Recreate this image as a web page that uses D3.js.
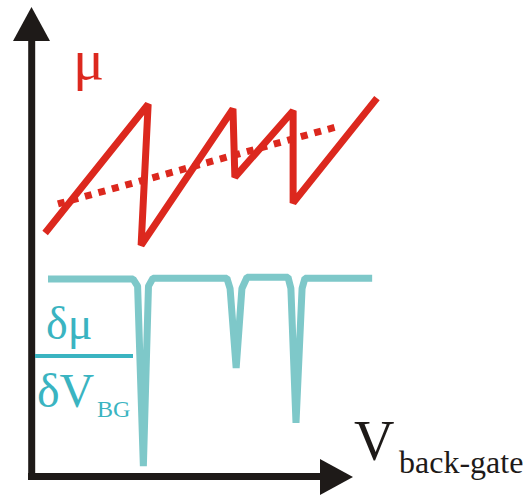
<!DOCTYPE html>
<html>
<head>
<meta charset="utf-8">
<script src="https://cdn.jsdelivr.net/npm/d3@7"></script>
<style>
  html, body { margin: 0; padding: 0; background: #fff; }
  svg { display: block; }
  text { font-family: "Liberation Serif", "Times New Roman", serif; }
</style>
</head>
<body>
<div id="chart"></div>
<script>
// ---- Data (abstract units: x = back-gate voltage, y = signal) ----
const muX      = [0.41, 3.63, 3.41, 6.28, 6.34, 8.16, 8.16, 10.78];
const muY      = [51.7, 79.1, 49.1, 78.1, 63.6, 77.7, 58.1, 80.4];
const trendX   = [0.81, 9.63];
const trendY   = [57.9, 74.5];
const dmuX     = [0.5, 3.16, 3.30, 3.48, 3.64, 3.78, 6.09, 6.19, 6.38, 6.56, 6.72, 8.00, 8.09, 8.25, 8.44, 8.53, 10.63];
const dmuY     = [41.9, 41.9, 40.4, 2.1, 40.4, 42.1, 42.1, 39.9, 23.0, 39.9, 42.3, 42.3, 39.9, 11.3, 39.9, 42.1, 42.1];
const labels   = { mu: "μ", dmu: "δμ", dV: "δV", bg: "BG", V: "V", vsub: "back-gate" };

const W = 527, H = 496;
const x = d3.scaleLinear().domain([0, 10]).range([32, 352]);
const y = d3.scaleLinear().domain([0, 100]).range([476, 6]);

const svg = d3.select("#chart").append("svg").attr("width", W).attr("height", H);

const RED = "#dc281e", TEAL_LINE = "#7ec8c9", TEAL_TXT = "#3ab4c1", BLACK = "#1e1a18";

// ---- Axes (arrows) ----
const x0 = x(0), y0 = y(0);
const yTop = y(100) + 1, xEnd = x(10) + 1;
svg.append("line").attr("x1", x0 - 0.3).attr("x2", x0 - 0.3)
  .attr("y1", y0 + 3.5).attr("y2", yTop + 34)
  .attr("stroke", BLACK).attr("stroke-width", 7);
svg.append("path")
  .attr("d", `M${x0 - 0.5},${yTop} L${x0 - 19},${yTop + 34} L${x0 + 18},${yTop + 34} Z`)
  .attr("fill", BLACK);
svg.append("line").attr("x1", x0 - 4).attr("x2", xEnd - 33)
  .attr("y1", y0 + 0.5).attr("y2", y0 + 0.5)
  .attr("stroke", BLACK).attr("stroke-width", 7);
svg.append("path")
  .attr("d", `M${xEnd},${y0 + 1} L${xEnd - 33},${y0 - 17} L${xEnd - 33},${y0 + 19} Z`)
  .attr("fill", BLACK);

// ---- mu sawtooth ----
const line = d3.line().x(d => x(d[0])).y(d => y(d[1]));
svg.append("path")
  .attr("d", line(d3.zip(muX, muY)))
  .attr("fill", "none").attr("stroke", RED).attr("stroke-width", 7)
  .attr("stroke-linejoin", "miter").attr("stroke-miterlimit", 1);

// ---- trend (dotted) ----
svg.append("path")
  .attr("d", line(d3.zip(trendX, trendY)))
  .attr("fill", "none").attr("stroke", RED).attr("stroke-width", 7)
  .attr("stroke-dasharray", "7,7");

// ---- dmu/dV curve ----
svg.append("path")
  .attr("d", line(d3.zip(dmuX, dmuY)))
  .attr("fill", "none").attr("stroke", TEAL_LINE).attr("stroke-width", 7)
  .attr("stroke-linejoin", "miter").attr("stroke-miterlimit", 1);

// ---- labels ----
svg.append("text").attr("x", 73).attr("y", 79)
  .attr("font-size", 58).attr("fill", RED).text(labels.mu);

svg.append("text").attr("x", 46).attr("y", 339)
  .attr("font-size", 46).attr("fill", TEAL_TXT).text(labels.dmu);
svg.append("line").attr("x1", 35).attr("x2", 133).attr("y1", 356).attr("y2", 356)
  .attr("stroke", TEAL_TXT).attr("stroke-width", 4);
svg.append("text").attr("x", 37).attr("y", 407)
  .attr("font-size", 48).attr("fill", TEAL_TXT).text(labels.dV);
svg.append("text").attr("x", 97).attr("y", 417)
  .attr("font-size", 24).attr("fill", TEAL_TXT).text(labels.bg);

svg.append("text").attr("x", 354).attr("y", 460)
  .attr("font-size", 56).attr("fill", BLACK).text(labels.V);
svg.append("text").attr("x", 399).attr("y", 473)
  .attr("font-size", 32).attr("fill", BLACK).text(labels.vsub);
</script>
</body>
</html>
